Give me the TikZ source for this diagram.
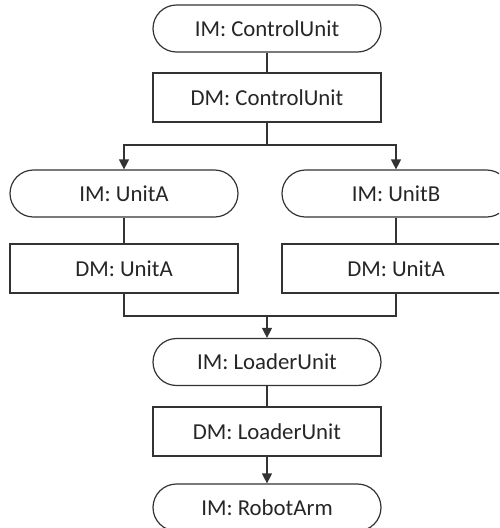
\documentclass[tikz,border=0pt]{standalone}
\usepackage{fontspec}
\setmainfont{Carlito}
\usetikzlibrary{arrows.meta}
\definecolor{ink}{HTML}{333333}
\definecolor{txt}{HTML}{262626}
\begin{document}
\begin{tikzpicture}[x=1pt,y=-1pt,
  base/.style={draw=ink, line width=1.2pt, text=txt, minimum width=228pt,
    inner sep=0pt, font=\fontsize{22.8}{27}\selectfont},
  imbox/.style={base, minimum height=47pt, rounded corners=23.5pt},
  dmbox/.style={base, minimum height=49pt},
  link/.style={draw=ink, line width=1.2pt},
  flow/.style={link, -{Triangle[width=10pt,length=10pt]}}]
\useasboundingbox (0,0) rectangle (499,528);
\clip (0,0) rectangle (499,528);
\fill[white] (0,0) rectangle (499,528);

\node[imbox] (imcu) at (267,28.5) {IM: ControlUnit};
\node[dmbox] (dmcu) at (267,97.5) {DM: ControlUnit};
\node[imbox] (ima) at (124,193.5) {IM: UnitA};
\node[imbox] (imb) at (396,193.5) {IM: UnitB};
\node[dmbox] (dma) at (124,268.5) {DM: UnitA};
\node[dmbox] (dmb) at (396,268.5) {DM: UnitA};
\node[imbox] (imlu) at (267,362) {IM: LoaderUnit};
\node[dmbox] (dmlu) at (267,431.5) {DM: LoaderUnit};
\node[imbox] (imra) at (267,507.5) {IM: RobotArm};

\coordinate (split) at (267,145);
\coordinate (join) at (267,316);

\draw[link] (imcu) -- (dmcu);
\draw[link] (dmcu.south) -- (split);
\draw[flow] (split) -| (ima.north);
\draw[flow] (split) -| (imb.north);
\draw[link] (ima) -- (dma);
\draw[link] (imb) -- (dmb);
\draw[link] (dma.south) |- (join);
\draw[link] (dmb.south) |- (join);
\draw[flow] (join) -- (imlu.north);
\draw[link] (imlu) -- (dmlu);
\draw[flow] (dmlu) -- (imra);
\end{tikzpicture}
\end{document}
